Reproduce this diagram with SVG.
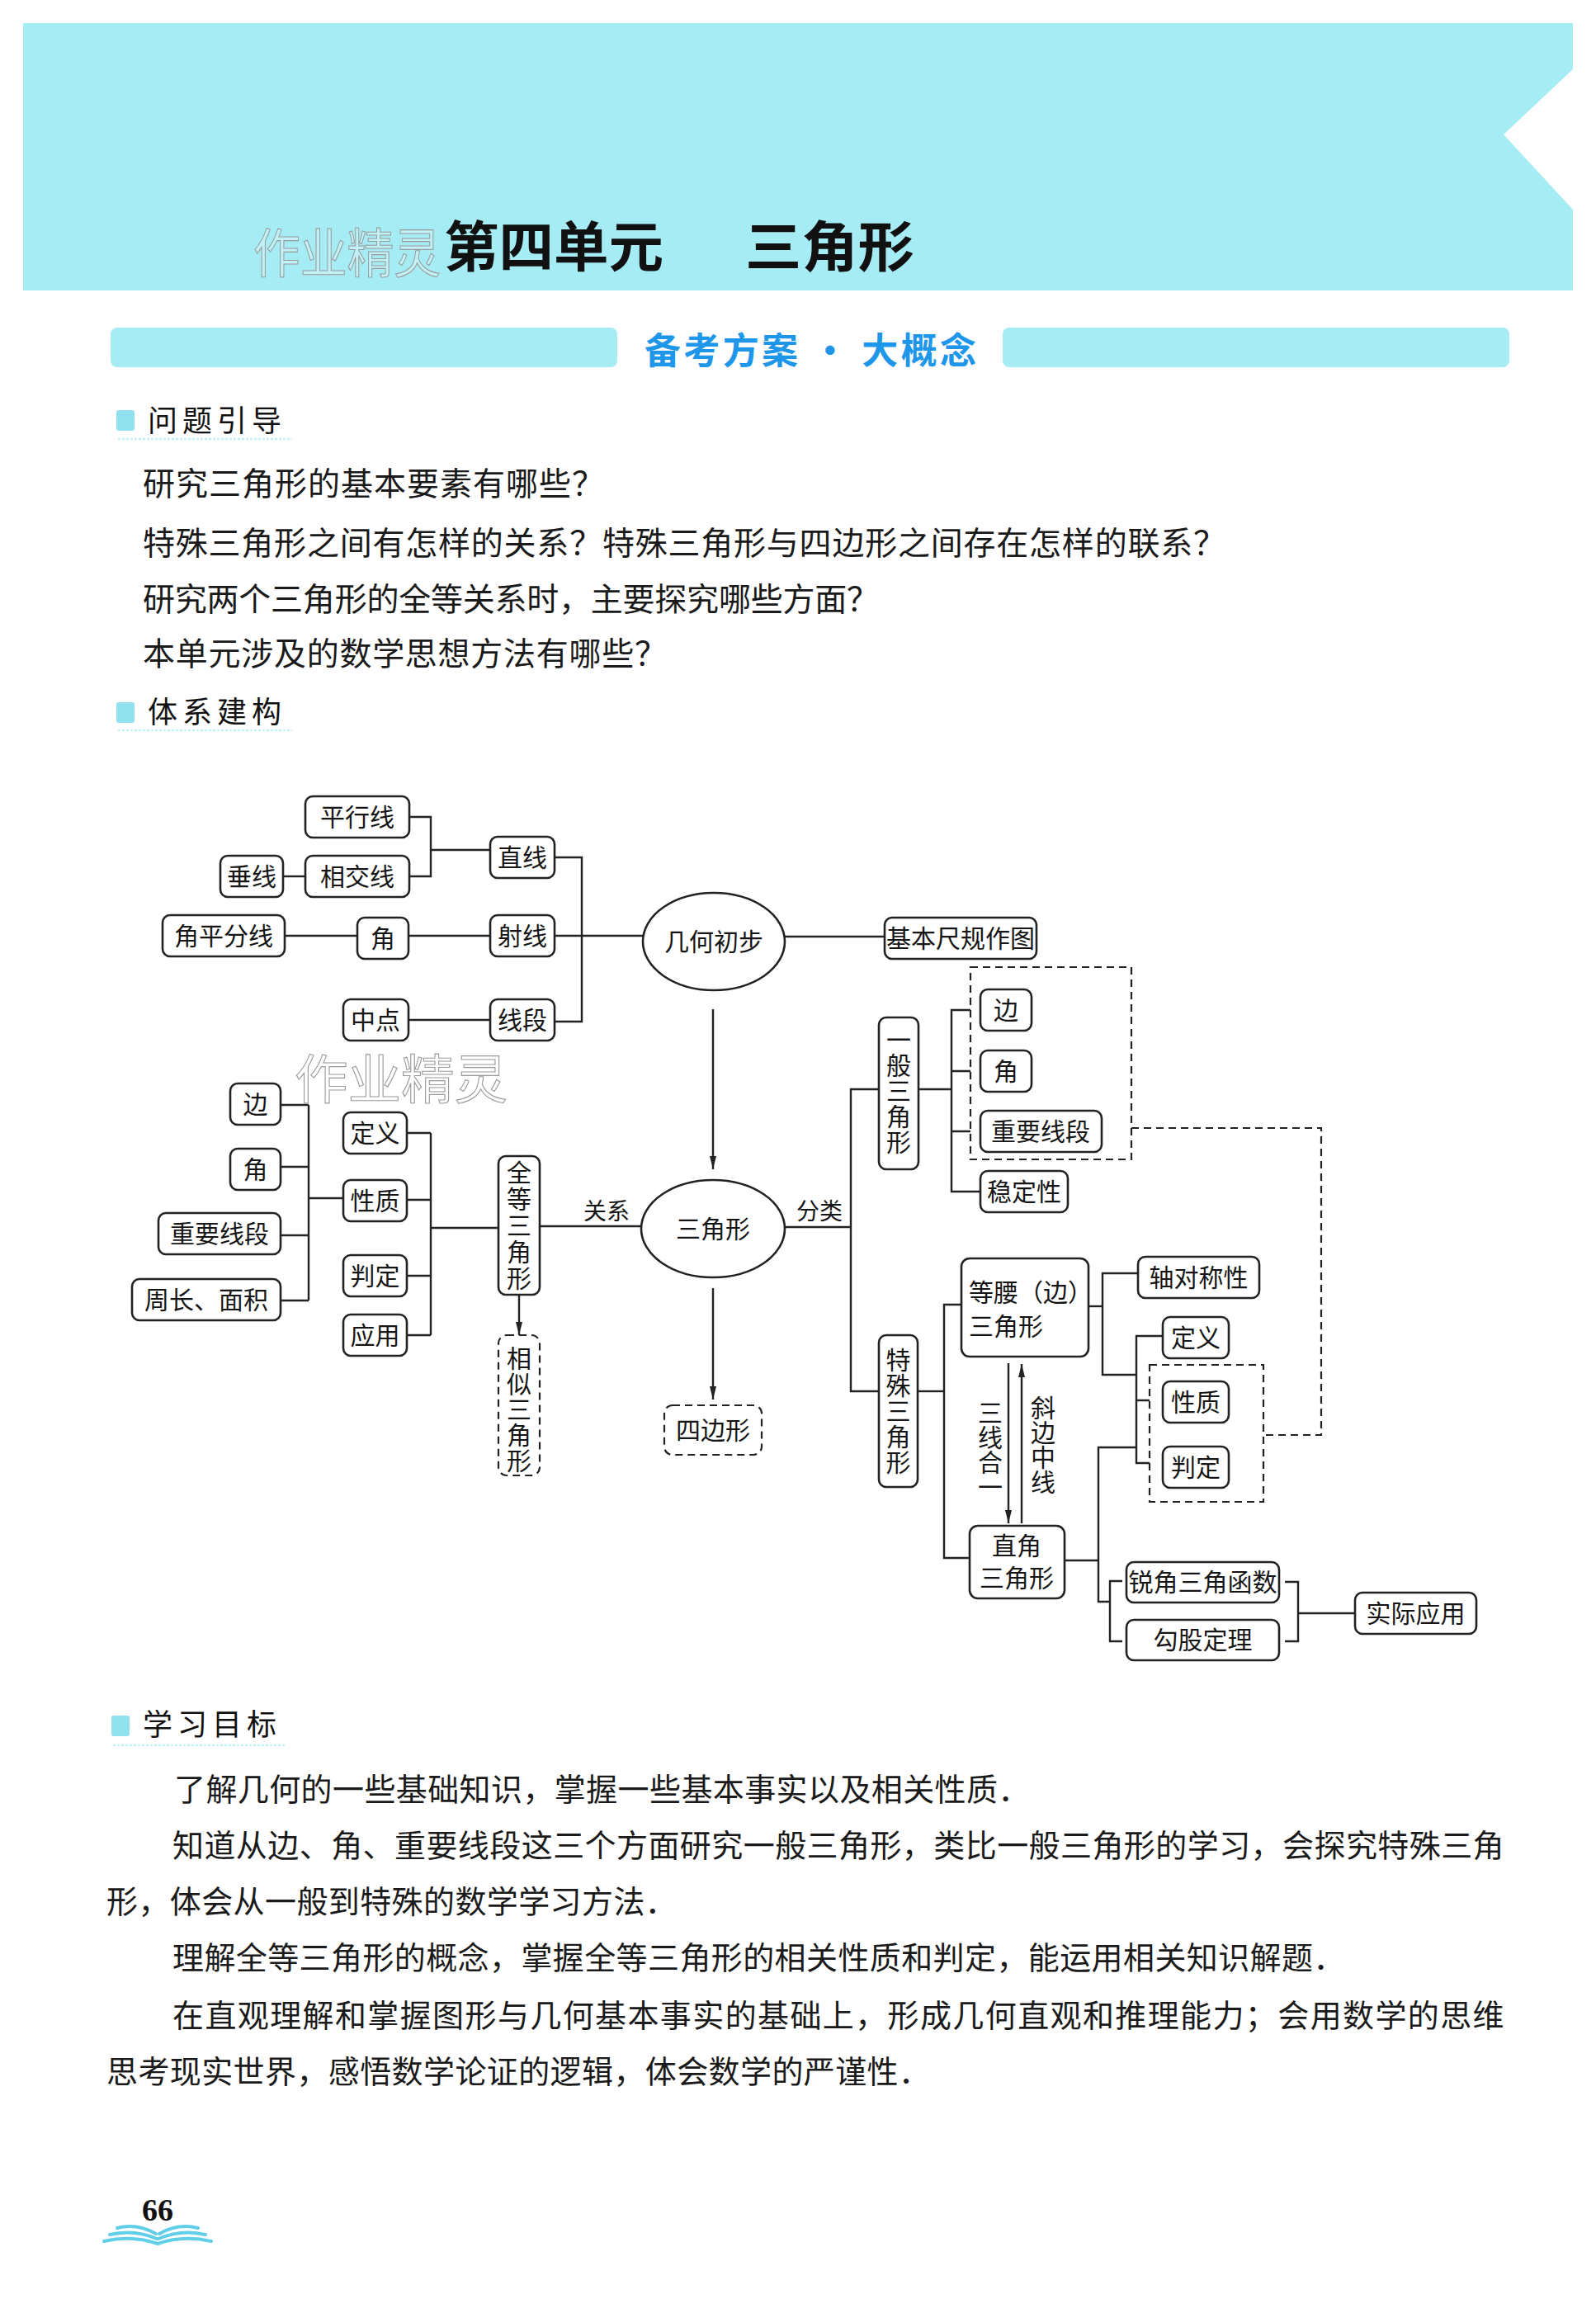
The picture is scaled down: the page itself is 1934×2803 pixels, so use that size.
<svg xmlns="http://www.w3.org/2000/svg" width="1934" height="2803" viewBox="0 0 1934 2803">
<defs>
<style>
.cjk{font-family:'Noto Sans CJK SC','Noto Sans CJK JP',sans-serif;}
.bx{fill:#fff;stroke:#222;stroke-width:2.6;}
.dbx{fill:#fff;stroke:#222;stroke-width:2.2;stroke-dasharray:9 6;}
.fr{fill:none;stroke:#222;stroke-width:2.2;stroke-dasharray:9 6;}
.ln{fill:none;stroke:#222;stroke-width:2.4;}
.dl{fill:none;stroke:#222;stroke-width:2.2;stroke-dasharray:9 6;}
.t{font-family:'Noto Sans CJK SC','Noto Sans CJK JP',sans-serif;font-size:30px;fill:#151515;text-anchor:middle;}
.tl{font-family:'Noto Sans CJK SC','Noto Sans CJK JP',sans-serif;font-size:30px;fill:#151515;}
.vt{font-family:'Noto Sans CJK SC','Noto Sans CJK JP',sans-serif;font-size:30px;fill:#151515;text-anchor:middle;writing-mode:vertical-rl;}
.lb{font-family:'Noto Sans CJK SC','Noto Sans CJK JP',sans-serif;font-size:28px;fill:#151515;text-anchor:middle;}
.body{font-family:'Noto Sans CJK SC','Noto Sans CJK JP',sans-serif;font-size:38px;fill:#1a1a1a;letter-spacing:0.4px;}
.q{font-family:'Noto Sans CJK SC','Noto Sans CJK JP',sans-serif;font-size:39px;fill:#1a1a1a;}
.hd{font-family:'Noto Sans CJK SC','Noto Sans CJK JP',sans-serif;font-size:36px;fill:#111;letter-spacing:6px;}
.sq{fill:#8fe2ee;}
.ul{stroke:#c4f0f6;stroke-width:2.5;}
.wm{font-family:'Noto Sans CJK SC','Noto Sans CJK JP',sans-serif;fill:rgba(255,255,255,0.3);stroke:#9a9a9a;stroke-width:1.1;}
</style>
<marker id="ah" viewBox="0 0 16 8" refX="16" refY="4" markerWidth="16" markerHeight="8" markerUnits="userSpaceOnUse" orient="auto">
<path d="M0,0 L16,4 L0,8 Z" fill="#222"/>
</marker>
</defs>

<rect x="0" y="0" width="1934" height="2803" fill="#fff"/>

<!-- top banner -->
<g id="banner">
<path d="M28,28 H1906 V84 L1822,163 L1906,254 V352 H28 Z" fill="#a6ecf4"/>
<text class="cjk" x="538" y="323" font-size="66" font-weight="bold" fill="#111" textLength="266" lengthAdjust="spacingAndGlyphs">第四单元</text>
<text class="cjk" x="903" y="323" font-size="66" font-weight="bold" fill="#111" textLength="205" lengthAdjust="spacingAndGlyphs">三角形</text>
<text class="wm" x="307" y="330" font-size="64" textLength="227" lengthAdjust="spacingAndGlyphs">作业精灵</text>
</g>

<!-- section header -->
<g id="section-header">
<rect x="134" y="397" width="614" height="48" rx="8" fill="#a6ecf4"/>
<rect x="1215" y="397" width="614" height="48" rx="8" fill="#a6ecf4"/>
<text class="cjk" x="781" y="441" font-size="44" font-weight="bold" fill="#1e96ea" textLength="402" lengthAdjust="spacing">备考方案 · 大概念</text>
</g>

<!-- 问题引导 -->
<g id="questions">
<rect class="sq" x="141" y="497" width="22" height="25" rx="3"/>
<text class="hd" x="179" y="523">问题引导</text>
<line class="ul" x1="143" y1="532" x2="354" y2="532" stroke-dasharray="3 2"/>
<text class="q" x="173" y="600" textLength="559" lengthAdjust="spacing">研究三角形的基本要素有哪些？</text>
<text class="q" x="173" y="672" textLength="1312" lengthAdjust="spacing">特殊三角形之间有怎样的关系？特殊三角形与四边形之间存在怎样的联系？</text>
<text class="q" x="173" y="740" textLength="892" lengthAdjust="spacing">研究两个三角形的全等关系时，主要探究哪些方面？</text>
<text class="q" x="173" y="806" textLength="635" lengthAdjust="spacing">本单元涉及的数学思想方法有哪些？</text>
<rect class="sq" x="141" y="851" width="22" height="25" rx="3"/>
<text class="hd" x="179" y="876">体系建构</text>
<line class="ul" x1="143" y1="885" x2="354" y2="885" stroke-dasharray="3 2"/>
</g>

<!-- watermark in diagram -->
<text class="wm" x="357" y="1331" font-size="64" textLength="258" lengthAdjust="spacingAndGlyphs">作业精灵</text>

<!-- dashed frames -->
<g id="frames">
<rect class="fr" x="1176" y="1172" width="195" height="233"/>
<rect class="fr" x="1393" y="1654" width="138" height="166"/>
</g>

<!-- connectors -->
<g id="connectors">
<path class="ln" d="M496,990 H522 V1062 H496"/>
<path class="ln" d="M522,1030 H594"/>
<path class="ln" d="M343,1062 H370"/>
<path class="ln" d="M345,1134 H433"/>
<path class="ln" d="M495,1134 H594"/>
<path class="ln" d="M672,1134 H779"/>
<path class="ln" d="M672,1039 H705 V1238 H672"/>
<path class="ln" d="M495,1236 H594"/>
<path class="ln" d="M951,1135 H1072"/>
<path class="ln" d="M864,1223 V1417" marker-end="url(#ah)"/>
<path class="ln" d="M864,1561 V1696" marker-end="url(#ah)"/>
<path class="ln" d="M629,1569 V1618" marker-end="url(#ah)"/>
<path class="ln" d="M493,1373 H522 M493,1454 H522 M493,1546 H522 M493,1618 H522 M522,1373 V1618"/>
<path class="ln" d="M522,1488 H604"/>
<path class="ln" d="M340,1339 H374 M340,1414 H374 M340,1497 H374 M340,1576 H374 M374,1339 V1576"/>
<path class="ln" d="M374,1452 H416"/>
<path class="ln" d="M654,1486 H777"/>
<path class="ln" d="M951,1487 H1031"/>
<path class="ln" d="M1065,1320 H1031 V1686 H1065"/>
<path class="ln" d="M1112,1320 H1153"/>
<path class="ln" d="M1176,1224 H1153 V1444 H1188 M1153,1298 H1176 M1153,1371 H1176"/>
<path class="dl" d="M1371,1367 H1601 V1739 H1531"/>
<path class="ln" d="M1112,1686 H1144"/>
<path class="ln" d="M1165,1581 H1144 V1888 H1175"/>
<path class="ln" d="M1319,1583 H1336"/>
<path class="ln" d="M1379,1543 H1336 V1666 H1377"/>
<path class="ln" d="M1409,1619 H1377 V1773 H1393 M1377,1697 H1393"/>
<path class="ln" d="M1290,1891 H1331"/>
<path class="ln" d="M1377,1754 H1331 V1941 H1345"/>
<path class="ln" d="M1360,1916 H1345 V1989 H1360"/>
<path class="ln" d="M1557,1917 H1573 V1989 H1557 M1573,1955 H1642"/>
<path class="ln" d="M1222,1652 V1846" marker-end="url(#ah)"/>
<path class="ln" d="M1238,1846 V1653" marker-end="url(#ah)"/>
<text class="lb" x="735" y="1478">关系</text>
<text class="lb" x="993" y="1478">分类</text>
<text class="vt" x="1200" y="1757">三线合一</text>
<text class="vt" x="1264" y="1751">斜边中线</text>
</g>

<!-- nodes -->
<g id="n-pingxingxian"><rect class="bx" x="370" y="965" width="126" height="50" rx="9"/><text class="t" x="433" y="1001">平行线</text></g>
<g id="n-chuixian"><rect class="bx" x="267" y="1037" width="76" height="50" rx="9"/><text class="t" x="305" y="1073">垂线</text></g>
<g id="n-xiangjiaoxian"><rect class="bx" x="370" y="1037" width="126" height="50" rx="9"/><text class="t" x="433" y="1073">相交线</text></g>
<g id="n-zhixian"><rect class="bx" x="594" y="1014" width="78" height="50" rx="9"/><text class="t" x="633" y="1050">直线</text></g>
<g id="n-jiaopingfenxian"><rect class="bx" x="197" y="1109" width="148" height="50" rx="9"/><text class="t" x="271" y="1145">角平分线</text></g>
<g id="n-jiao1"><rect class="bx" x="433" y="1112" width="62" height="50" rx="9"/><text class="t" x="464" y="1148">角</text></g>
<g id="n-shexian"><rect class="bx" x="594" y="1109" width="78" height="50" rx="9"/><text class="t" x="633" y="1145">射线</text></g>
<g id="n-zhongdian"><rect class="bx" x="416" y="1211" width="79" height="50" rx="9"/><text class="t" x="455" y="1247">中点</text></g>
<g id="n-xianduan"><rect class="bx" x="594" y="1211" width="78" height="50" rx="9"/><text class="t" x="633" y="1247">线段</text></g>
<g id="n-jihechubu"><ellipse class="bx" cx="865" cy="1141" rx="86" ry="59" stroke-width="2.4"/><text class="t" x="865" y="1152">几何初步</text></g>
<g id="n-chigui"><rect class="bx" x="1072" y="1112" width="184" height="50" rx="9"/><text class="t" x="1164" y="1148" font-size="29">基本尺规作图</text></g>

<g id="n-bian-r"><rect class="bx" x="1188" y="1199" width="62" height="50" rx="9"/><text class="t" x="1219" y="1235">边</text></g>
<g id="n-jiao-r"><rect class="bx" x="1188" y="1273" width="62" height="50" rx="9"/><text class="t" x="1219" y="1309">角</text></g>
<g id="n-zhongyao-r"><rect class="bx" x="1188" y="1346" width="147" height="50" rx="9"/><text class="t" x="1261" y="1382">重要线段</text></g>
<g id="n-wending"><rect class="bx" x="1188" y="1419" width="106" height="50" rx="9"/><text class="t" x="1241" y="1455">稳定性</text></g>
<g id="n-yiban"><rect class="bx" x="1065" y="1233" width="48" height="184" rx="9"/><text class="vt" x="1089" y="1322" letter-spacing="1">一般三角形</text></g>

<g id="n-bian-l"><rect class="bx" x="279" y="1313" width="61" height="50" rx="9"/><text class="t" x="309.5" y="1349">边</text></g>
<g id="n-jiao-l"><rect class="bx" x="279" y="1392" width="61" height="50" rx="9"/><text class="t" x="309.5" y="1428">角</text></g>
<g id="n-zhongyao-l"><rect class="bx" x="192" y="1470" width="148" height="50" rx="9"/><text class="t" x="266" y="1506">重要线段</text></g>
<g id="n-zhouchang"><rect class="bx" x="160" y="1550" width="180" height="50" rx="9"/><text class="t" x="250" y="1586">周长、面积</text></g>
<g id="n-dingyi-l"><rect class="bx" x="416" y="1348" width="77" height="50" rx="9"/><text class="t" x="454.5" y="1384">定义</text></g>
<g id="n-xingzhi-l"><rect class="bx" x="416" y="1430" width="77" height="50" rx="9"/><text class="t" x="454.5" y="1466">性质</text></g>
<g id="n-panding-l"><rect class="bx" x="416" y="1521" width="77" height="50" rx="9"/><text class="t" x="454.5" y="1557">判定</text></g>
<g id="n-yingyong"><rect class="bx" x="416" y="1593" width="77" height="50" rx="9"/><text class="t" x="454.5" y="1629">应用</text></g>
<g id="n-quandeng"><rect class="bx" x="604" y="1401" width="50" height="168" rx="9"/><text class="vt" x="629" y="1486" letter-spacing="2">全等三角形</text></g>
<g id="n-xiangsi"><rect class="dbx" x="604" y="1618" width="50" height="170" rx="10"/><text class="vt" x="629" y="1708" letter-spacing="1">相似三角形</text></g>
<g id="n-sanjiaoxing"><ellipse class="bx" cx="864" cy="1489" rx="87" ry="59" stroke-width="2.4"/><text class="t" x="864" y="1500">三角形</text></g>
<g id="n-sibianxing"><rect class="dbx" x="805" y="1703" width="118" height="60" rx="10"/><text class="t" x="864" y="1744">四边形</text></g>

<g id="n-teshu"><rect class="bx" x="1065" y="1618" width="47" height="184" rx="9"/><text class="vt" x="1088.5" y="1710" letter-spacing="1">特殊三角形</text></g>
<g id="n-dengyao"><rect class="bx" x="1165" y="1525" width="154" height="119" rx="10"/><text class="tl" x="1174" y="1577">等腰（边）</text><text class="tl" x="1174" y="1618">三角形</text></g>
<g id="n-zhouduichen"><rect class="bx" x="1379" y="1523" width="147" height="50" rx="9"/><text class="t" x="1452.5" y="1559">轴对称性</text></g>
<g id="n-dingyi-r"><rect class="bx" x="1409" y="1596" width="80" height="50" rx="9"/><text class="t" x="1449" y="1632">定义</text></g>
<g id="n-xingzhi-r"><rect class="bx" x="1409" y="1674" width="80" height="50" rx="9"/><text class="t" x="1449" y="1710">性质</text></g>
<g id="n-panding-r"><rect class="bx" x="1409" y="1753" width="80" height="50" rx="9"/><text class="t" x="1449" y="1789">判定</text></g>
<g id="n-zhijiao"><rect class="bx" x="1175" y="1849" width="115" height="88" rx="10"/><text class="t" x="1232" y="1884">直角</text><text class="t" x="1232" y="1923">三角形</text></g>
<g id="n-ruijiao"><rect class="bx" x="1365" y="1893" width="185" height="49" rx="9"/><text class="t" x="1457.5" y="1928" font-size="29">锐角三角函数</text></g>
<g id="n-gougu"><rect class="bx" x="1365" y="1963" width="185" height="49" rx="9"/><text class="t" x="1457.5" y="1998">勾股定理</text></g>
<g id="n-shiji"><rect class="bx" x="1642" y="1930" width="147" height="50" rx="9"/><text class="t" x="1715.5" y="1966">实际应用</text></g>

<!-- 学习目标 -->
<g id="goals">
<rect class="sq" x="135" y="2079" width="22" height="25" rx="3"/>
<text class="hd" x="173" y="2103">学习目标</text>
<line class="ul" x1="137" y1="2115" x2="346" y2="2115" stroke-dasharray="3 2"/>
<text class="body" x="211" y="2182">了解几何的一些基础知识，掌握一些基本事实以及相关性质．</text>
<text class="body" x="209" y="2250" textLength="1614" lengthAdjust="spacing">知道从边、角、重要线段这三个方面研究一般三角形，类比一般三角形的学习，会探究特殊三角</text>
<text class="body" x="129" y="2318">形，体会从一般到特殊的数学学习方法．</text>
<text class="body" x="209" y="2386">理解全等三角形的概念，掌握全等三角形的相关性质和判定，能运用相关知识解题．</text>
<text class="body" x="209" y="2456" textLength="1614" lengthAdjust="spacing">在直观理解和掌握图形与几何基本事实的基础上，形成几何直观和推理能力；会用数学的思维</text>
<text class="body" x="129" y="2524">思考现实世界，感悟数学论证的逻辑，体会数学的严谨性．</text>
</g>

<!-- page number -->
<g id="page-number">
<text x="191" y="2691" font-family="'Liberation Serif',serif" font-size="38" font-weight="bold" fill="#111" text-anchor="middle">66</text>
<g fill="none" stroke="#62cfe8" stroke-width="4" stroke-linecap="round">
<path d="M189,2707 Q166,2694 142,2700"/>
<path d="M190,2713 Q162,2701 133,2708"/>
<path d="M191,2719 Q160,2708 126,2716"/>
<path d="M193,2707 Q216,2694 240,2700"/>
<path d="M192,2713 Q220,2701 249,2708"/>
<path d="M191,2719 Q222,2708 256,2716"/>
</g>
</g>
</svg>
